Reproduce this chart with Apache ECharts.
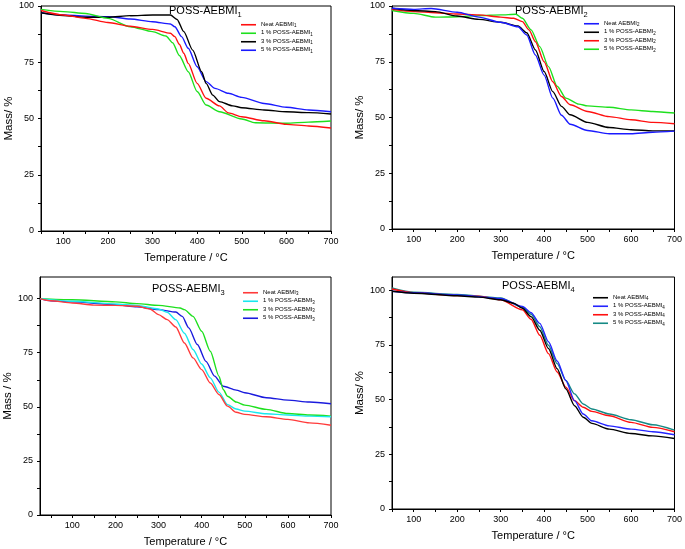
<!DOCTYPE html>
<html><head><meta charset="utf-8">
<script src="https://cdn.jsdelivr.net/npm/echarts@6/dist/echarts.min.js"></script>
<style>html,body{margin:0;padding:0;background:#fff}#c{width:685px;height:549px}</style>
</head><body><div id="c"></div>
<script>
// ---- Data (Temperature °C, Mass %) ----
var p1Neat = [[50,98],[100,96],[150,94.5],[200,92.7],[250,91],[300,89.6],[340,87.9],[350,86.4],[360,83],[370,79],[380,74.5],[400,65.6],[420,59],[450,55.6],[470,52.5],[500,50.8],[550,49],[600,47.4],[650,46.7],[700,45.8]];
var p1One = [[50,98.5],[100,97.5],[150,96.7],[200,94.5],[250,90.8],[300,88.6],[330,86.7],[345,83.7],[360,78],[380,70.8],[400,62],[420,56],[450,53],[500,49.8],[530,48.1],[600,47.9],[650,48.4],[700,48.9]];
var p1Three = [[50,97],[100,95.8],[150,95],[200,95],[250,95.7],[300,96],[340,96],[355,94],[370,88.6],[390,80.4],[410,70.8],[420,65.6],[435,60.4],[450,57.5],[480,55.6],[500,54.8],[550,53.8],[600,53],[650,52.6],[700,52]];
var p1Five = [[50,97],[100,96],[150,95.5],[200,95.3],[250,94.2],[300,93],[340,92],[350,90.8],[365,86.4],[380,81.2],[400,73],[420,66.4],[440,63.4],[470,61.2],[500,59.4],[550,56.7],[600,55],[650,53.8],[700,53]];

var p2Neat = [[50,99],[100,98.5],[140,98.9],[200,97.2],[250,95],[300,92.7],[340,90.7],[360,87],[380,78],[400,69],[420,58.7],[440,51],[460,47],[500,44.2],[550,42.7],[600,42.7],[650,43.4],[700,43.9]];
var p2One = [[50,99],[100,98],[150,97.5],[200,95.5],[250,94],[300,92.7],[340,91],[360,88],[380,80.3],[400,70.6],[420,61.6],[440,55],[460,51.2],[500,47.8],[550,45.5],[600,44.5],[650,44],[700,44]];
var p2Three = [[50,98.5],[100,97.5],[150,97],[200,96.4],[250,96],[300,95],[330,94.5],[350,93],[365,89.3],[380,84],[400,75],[420,66],[440,59.4],[460,55.7],[500,52.7],[550,50.4],[600,49],[650,47.8],[700,47.2]];
var p2Five = [[50,98],[100,96.7],[150,95],[200,95.2],[250,95.7],[300,96],[335,96.3],[350,94.5],[370,89.3],[390,81.8],[410,72.8],[430,64],[450,58.7],[480,56],[500,55.2],[550,54.6],[600,53.4],[650,52.7],[700,52]];

var p3Neat = [[25,100],[50,99],[100,98],[150,97],[200,96.9],[250,96.5],[280,95.2],[300,92.6],[320,90.3],[340,86.9],[360,79.5],[380,72.6],[400,67.2],[420,61],[440,55.7],[460,50.3],[480,47.5],[500,46.5],[550,45.4],[600,44.2],[650,42.6],[700,41.5]];
var p3One = [[25,100],[100,98.8],[200,97.5],[250,96.8],[300,95.2],[320,93.7],[340,90.3],[360,84],[380,76.5],[400,69.8],[420,63.4],[440,56.8],[460,51],[480,49],[500,48],[550,46.8],[600,46.2],[650,45.7],[700,45.4]];
var p3Three = [[25,100],[100,99.5],[200,98.5],[250,97.7],[300,96.9],[350,95.7],[360,94.9],[380,91.8],[400,84.9],[420,75.7],[440,64.2],[450,58],[460,54.9],[480,52.2],[500,50.8],[550,48.8],[600,46.9],[650,46.2],[700,45.7]];
var p3Five = [[25,100],[50,99],[100,98.5],[200,97.2],[250,96.2],[300,94.9],[340,93.8],[355,91.8],[370,86.5],[390,78.8],[410,71],[430,64.2],[450,59.5],[480,57.7],[500,56.5],[550,54.2],[600,53.1],[650,52.2],[700,51.4]];

var p4Neat = [[50,99.5],[100,98.6],[200,97.4],[250,96.8],[300,95.6],[330,94],[350,91.7],[370,87.9],[390,81.7],[410,73.3],[430,64.1],[450,54.9],[470,47.2],[490,41.9],[510,39.1],[550,36.5],[600,34.5],[650,33.4],[700,32.2]];
var p4One = [[50,99.5],[100,98.8],[200,97.8],[300,96.2],[350,92.5],[370,89.7],[390,84.8],[410,76.4],[430,67.6],[450,58.7],[470,49.5],[490,43.4],[510,40.3],[550,38],[600,36.5],[650,35.3],[700,33.9]];
var p4Three = [[50,100.5],[100,98.8],[200,97.5],[250,97.2],[300,95.6],[350,91],[370,86.7],[390,79.4],[410,71],[430,62.6],[450,55.7],[470,49.5],[490,46.5],[510,44.6],[550,42.6],[600,39.6],[650,37.3],[700,35.3]];
var p4Five = [[50,101],[100,99],[200,98],[300,96.4],[350,92.2],[370,89],[390,83.3],[410,74.8],[430,66.4],[450,58.7],[470,52.6],[490,48],[510,45.7],[550,43.4],[600,40.8],[650,38.5],[700,36]];

var xLabels = [100,200,300,400,500,600,700];
var yLabels = [0,25,50,75,100];

// ---- Layout ----
var panels = [
  {sub:'1', grid:{left:41,right:354,top:6,bottom:318}, xmin:50, ymax:100,
   names:['Neat AEBMI','1 % POSS-AEBMI','3 % POSS-AEBMI','5 % POSS-AEBMI'],
   data:[p1Neat,p1One,p1Three,p1Five], colors:['#ff1010','#1ee01e','#000000','#1a1aff'],
   title:{left:169,top:5}, legend:{left:241,top:21}, yName:'Mass/ %', yNameGap:25},
  {sub:'2', grid:{left:392,right:9,top:6,bottom:320}, xmin:50, ymax:100,
   names:['Neat AEBMI','1 % POSS-AEBMI','3 % POSS-AEBMI','5 % POSS-AEBMI'],
   data:[p2Neat,p2One,p2Three,p2Five], colors:['#1a1aff','#000000','#ff1010','#1ee01e'],
   title:{left:515,top:5}, legend:{left:584,top:20}, yName:'Mass/ %', yNameGap:25},
  {sub:'3', grid:{left:40,right:354,top:277,bottom:34}, xmin:25, ymax:110,
   names:['Neat AEBMI','1 % POSS-AEBMI','3 % POSS-AEBMI','5 % POSS-AEBMI'],
   data:[p3Neat,p3One,p3Three,p3Five], colors:['#ff3a3a','#19e8ee','#1ee01e','#1a1add'],
   title:{left:152,top:283}, legend:{left:243,top:289}, yName:'Mass / %', yNameGap:26},
  {sub:'4', grid:{left:392,right:8,top:277,bottom:40}, xmin:50, ymax:106,
   names:['Neat AEBMI','1 % POSS-AEBMI','3 % POSS-AEBMI','5 % POSS-AEBMI'],
   data:[p4Neat,p4One,p4Three,p4Five], colors:['#000000','#2424ff','#ff1010','#168a85'],
   title:{left:502,top:280}, legend:{left:593,top:294}, yName:'Mass/ %', yNameGap:25}
];

var FONT = 'Liberation Sans, Arial, sans-serif';
var option = {backgroundColor:'#fff', animation:false, grid:[], xAxis:[], yAxis:[], series:[], legend:[], title:[]};

function legendFmt(name){
  var parts = name.split('_');
  return '{a|' + parts[0] + '}{s|' + parts[1] + '}';
}

panels.forEach(function(p, i){
  var g = p.grid;
  option.grid.push({left:g.left, right:g.right, top:g.top, bottom:g.bottom, show:true, borderColor:'#000', borderWidth:1, containLabel:false});
  var xTicks = [];
  for (var t = 50; t <= 700; t += 50) xTicks.push(t);
  option.xAxis.push({
    type:'value', gridIndex:i, min:p.xmin, max:700,
    name:'Temperature / \u00b0C', nameLocation:'middle', nameGap:21,
    nameTextStyle:{fontFamily:FONT, fontSize:11, color:'#000'},
    axisLine:{show:true, onZero:false, lineStyle:{color:'#000', width:1}},
    axisTick:{show:true, inside:false, length:3, customValues:xTicks, lineStyle:{color:'#000'}},
    axisLabel:{customValues:xLabels, fontFamily:FONT, fontSize:9, color:'#000', margin:6},
    splitLine:{show:false}
  });
  var yTicks = [];
  for (var v = 0; v <= 100; v += 12.5) yTicks.push(v);
  option.yAxis.push({
    type:'value', gridIndex:i, min:0, max:p.ymax,
    name:p.yName, nameLocation:'middle', nameGap:p.yNameGap, nameRotate:90,
    nameTextStyle:{fontFamily:FONT, fontSize:11.5, color:'#000'},
    axisLine:{show:true, onZero:false, lineStyle:{color:'#000', width:1}},
    axisTick:{show:true, inside:false, length:3, customValues:yTicks, lineStyle:{color:'#000'}},
    axisLabel:{customValues:yLabels, fontFamily:FONT, fontSize:9, color:'#000', margin:7},
    splitLine:{show:false}
  });
  var legendNames = [];
  p.names.forEach(function(n, k){
    var full = n + '_' + p.sub;
    legendNames.push({name:full, icon:'rect'});
    option.series.push({
      type:'line', name:full, xAxisIndex:i, yAxisIndex:i, data:p.data[k],
      showSymbol:false, symbol:'none', smooth:0.25, smoothMonotone:'x',
      lineStyle:{color:p.colors[k], width:1.4}, itemStyle:{color:p.colors[k]}, z:10-k
    });
  });
  option.legend.push({
    data:legendNames, orient:'vertical', left:p.legend.left, top:p.legend.top,
    itemWidth:15, itemHeight:1.6, itemGap:1, padding:0, selectedMode:false,
    formatter:legendFmt,
    textStyle:{color:'#000', fontFamily:FONT,
      rich:{a:{fontSize:6, fontFamily:FONT, color:'#000', padding:[0,0,1.5,0], verticalAlign:'bottom'},
            s:{fontSize:4.5, fontFamily:FONT, color:'#000', verticalAlign:'bottom'}}}
  });
  option.title.push({
    text:'{a|POSS-AEBMI}{s|' + p.sub + '}', left:p.title.left, top:p.title.top, padding:0,
    textStyle:{fontWeight:'normal', rich:{a:{fontSize:11, fontWeight:'normal', fontFamily:FONT, color:'#000', padding:[0,0,3,0], verticalAlign:'bottom'},
                     s:{fontSize:7.5, fontWeight:'normal', fontFamily:FONT, color:'#000', verticalAlign:'bottom'}}}
  });
});

var chart = echarts.init(document.getElementById('c'));
chart.setOption(option);
</script></body></html>
